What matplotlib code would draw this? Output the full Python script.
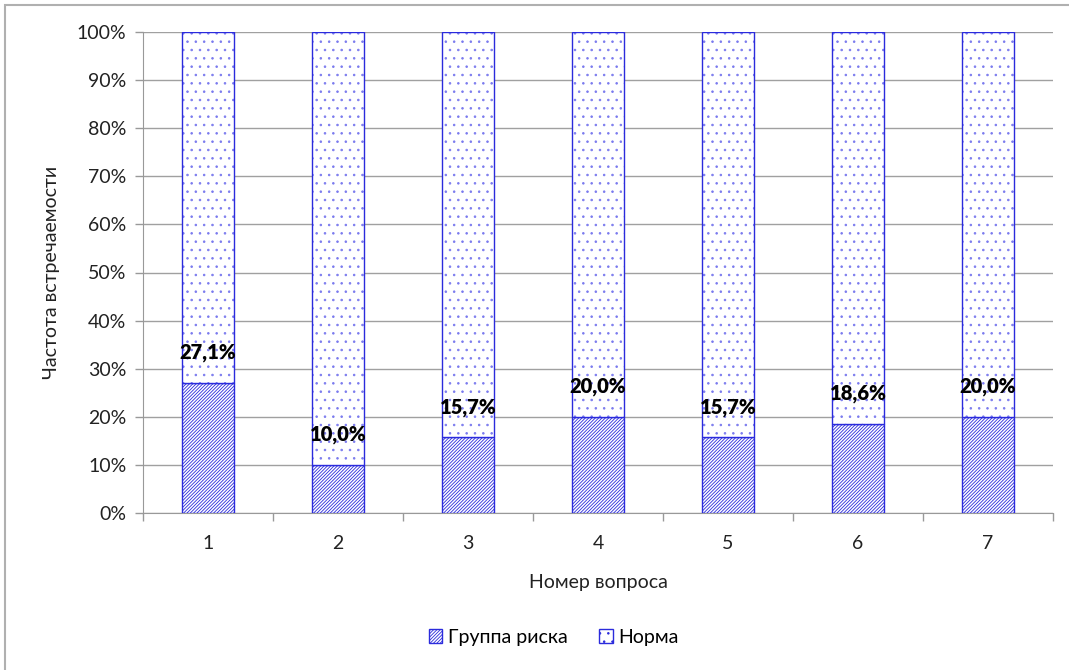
import matplotlib
matplotlib.use("Agg")
import matplotlib.pyplot as plt
from matplotlib.patches import Rectangle, Patch
import numpy as np

categories = ["1", "2", "3", "4", "5", "6", "7"]
risk = [27.1, 10.0, 15.7, 20.0, 15.7, 18.6, 20.0]
norma = [100 - v for v in risk]
risk_labels = ["27,1%", "10,0%", "15,7%", "20,0%", "15,7%", "18,6%", "20,0%"]
yticks = [0, 10, 20, 30, 40, 50, 60, 70, 80, 90, 100]
ytick_labels = [f"{t}%" for t in yticks]

plt.rcParams['font.family'] = ['Lato', 'DejaVu Sans']
plt.rcParams['hatch.linewidth'] = 0.6

W, H = 1069, 670
fig = plt.figure(figsize=(W / 100, H / 100), dpi=100)
fig.patches.append(Rectangle((5 / W, -0.01), 1.02, 1 - 5 / H + 0.01,
                             transform=fig.transFigure, fill=False,
                             edgecolor="#b0b0b0", linewidth=1.5))
ax = fig.add_axes([143 / W, 1 - 513 / H, (1053 - 143) / W, (513 - 32) / H])

blue = "#2b2bdc"
dotc = "#7a7aee"
x = np.arange(len(categories))
ax.bar(x, risk, width=0.4, color="white", edgecolor=blue, hatch="/" * 10,
       linewidth=1.0, zorder=3)
ax.bar(x, norma, width=0.4, bottom=risk, color="white", edgecolor=dotc,
       hatch="..", linewidth=0, zorder=3)
ax.bar(x, norma, width=0.4, bottom=risk, fill=False, edgecolor=blue,
       linewidth=1.0, zorder=4)

for xi, v, lab in zip(x, risk, risk_labels):
    ax.text(xi, v + 6.3, lab, ha="center", va="center", fontsize=14.5,
            fontweight="heavy", color="black", zorder=5)

ax.set_xlim(-0.5, len(categories) - 0.5)
ax.set_ylim(0, 100)
ax.set_yticks(yticks)
ax.set_yticklabels(ytick_labels, fontsize=14, color="#222222")
ax.set_xticks(x)
ax.set_xticklabels(categories, fontsize=14, color="#222222")
ax.set_xticks(np.arange(-0.5, len(categories), 1.0), minor=True)
ax.tick_params(axis="x", which="major", length=0, pad=16)
ax.tick_params(axis="x", which="minor", length=6, color="#999999", width=1)
ax.tick_params(axis="y", length=6, color="#999999", width=1, pad=6)

ax.grid(axis="y", color="#a0a0a0", linewidth=1, zorder=0)
ax.set_axisbelow(True)
for s in ["top", "right"]:
    ax.spines[s].set_visible(False)
ax.spines["left"].set_color("#999999")
ax.spines["bottom"].set_color("#999999")

ax.set_xlabel("Номер вопроса", fontsize=14, color="#222222", labelpad=16)
ax.set_ylabel("Частота встречаемости", fontsize=14, color="#222222", labelpad=12)

handles = [Patch(facecolor="white", edgecolor=blue, hatch="/" * 10, label="Группа риска"),
           Patch(facecolor="white", edgecolor=blue, hatch="..", label="Норма")]
fig.legend(handles=handles, loc="center", bbox_to_anchor=(0.518, 1 - 637 / H),
           ncol=2, frameon=False, fontsize=14, handlelength=0.7, handleheight=0.7,
           handletextpad=0.3, columnspacing=1.6)

fig.savefig("out.png", dpi=100)
